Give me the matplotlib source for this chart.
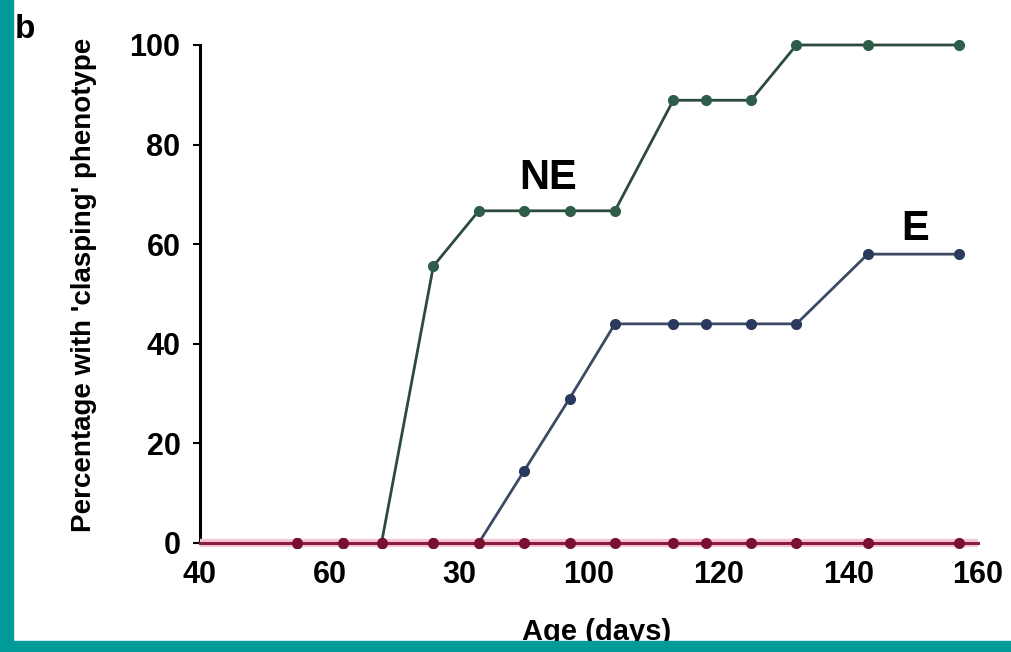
import matplotlib.pyplot as plt
from matplotlib.patches import Rectangle

plt.rcParams['font.family'] = 'Liberation Sans'

# ages (days) where each group was scored
age = [55, 62, 68, 76, 83, 90, 97, 104, 113, 118, 125, 132, 143, 157]

# percentage showing the clasping phenotype
ne_pct = [0, 0, 0, 55.6, 66.7, 66.7, 66.7, 66.7, 88.9, 88.9, 88.9, 100, 100, 100]
e_pct = [0, 0, 0, 0, 0, 14.5, 29, 44, 44, 44, 44, 44, 58, 58]
wt_pct = [0] * len(age)

x_ticks = [40, 60, 80, 100, 120, 140, 160]
x_tick_labels = ['40', '60', '30', '100', '120', '140', '160']
y_ticks = [0, 20, 40, 60, 80, 100]

fig = plt.figure(figsize=(10.12, 6.52), dpi=100)
ax = fig.add_axes([0.1976, 0.1672, 0.7688, 0.7638])

ax.plot(age, ne_pct, color='#2d4a3e', lw=2, marker='o', ms=7,
        mfc='#2e5e4a', mec='#2e5e4a', clip_on=False, zorder=3)
ax.plot(age, e_pct, color='#3c4a66', lw=2, marker='o', ms=7,
        mfc='#2a3a5e', mec='#2a3a5e', clip_on=False, zorder=3)
# pinkish glow under the control line
ax.plot([40] + age + [160], [0] * (len(age) + 2), color='#f7c6d6', lw=6,
        clip_on=False, zorder=4, solid_capstyle='butt')
ax.plot([40] + age + [160], [0] + wt_pct + [0], color='#8c1c40', lw=2.2,
        clip_on=False, zorder=5)
ax.plot(age, wt_pct, ls='none', marker='o', ms=7, mfc='#7a1030',
        mec='#7a1030', clip_on=False, zorder=6)

ax.set_xlim(40, 160)
ax.set_ylim(0, 100)
ax.set_xticks(x_ticks)
ax.set_xticklabels(x_tick_labels)
ax.set_yticks(y_ticks)

for s in ['top', 'right', 'bottom']:
    ax.spines[s].set_visible(False)
ax.spines['left'].set_linewidth(2.2)
ax.spines['left'].set_color('black')

ax.tick_params(axis='y', length=5, width=1.5, pad=9, labelsize=22)
ax.tick_params(axis='x', length=0, pad=12, labelsize=22)
for lab in ax.get_xticklabels() + ax.get_yticklabels():
    lab.set_fontweight('bold')

ax.text(93.7, 73.3, 'NE', fontsize=30, fontweight='bold', ha='center', va='center')
ax.text(150.3, 63, 'E', fontsize=30, fontweight='bold', ha='center', va='center')

fig.text(0.083, 0.563, "Percentage with 'clasping' phenotype", rotation=90,
         ha='center', va='center', fontsize=20, fontweight='bold')
fig.text(0.59, 0.03, 'Age (days)', ha='center', va='center',
         fontsize=21, fontweight='bold')
fig.text(0.025, 0.955, 'b', ha='center', va='center', fontsize=24,
         fontweight='bold')

# teal frame strips
fig.patches.append(Rectangle((0, 0), 0.0128, 1, transform=fig.transFigure,
                             color='#009b98', zorder=10))
fig.patches.append(Rectangle((0, 0), 1, 0.017, transform=fig.transFigure,
                             color='#009b98', zorder=10))

fig.savefig('out.png', dpi=100)
